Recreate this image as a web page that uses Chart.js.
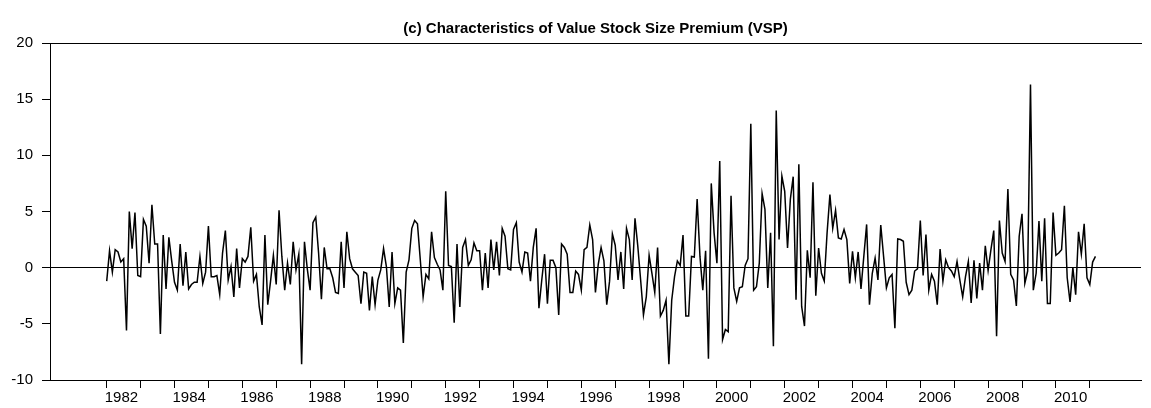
<!DOCTYPE html>
<html>
<head>
<meta charset="utf-8">
<script src="https://cdn.jsdelivr.net/npm/chart.js@4.4.1/dist/chart.umd.min.js"></script>
<style>
  html, body { margin: 0; padding: 0; background: #fff; }
  canvas { display: block; }
</style>
</head>
<body>
<canvas id="c" width="1151" height="408"></canvas>
<script>
// ---- data ----
const titleText = "(c) Characteristics of Value Stock Size Premium (VSP)";
const startYear = 1982;          // first observation: 1982M01 (monthly)
const yTicks = [-10, -5, 0, 5, 10, 15, 20];
const xTickYears = [1982,1983,1984,1985,1986,1987,1988,1989,1990,1991,1992,1993,1994,1995,1996,1997,1998,1999,2000,2001,2002,2003,2004,2005,2006,2007,2008,2009,2010,2011];
const xLabelYears = [1982,1984,1986,1988,1990,1992,1994,1996,1998,2000,2002,2004,2006,2008,2010];
const vsp = [
 -1.2, 1.5, -0.4, 1.6, 1.4, 0.5, 0.8, -5.6, 5.0, 1.7, 4.9, -0.7,
 -0.8, 4.3, 3.7, 0.4, 5.6, 2.1, 2.1, -5.9, 2.9, -1.9, 2.7, 0.6,
 -1.3, -2.0, 2.1, -1.6, 1.4, -1.9, -1.5, -1.3, -1.3, 1.0, -1.4, -0.4,
 3.7, -0.8, -0.8, -0.7, -2.4, 1.3, 3.3, -1.1, 0.1, -2.6, 1.7, -1.8,
 0.8, 0.5, 1.0, 3.6, -1.2, -0.6, -3.5, -5.1, 2.9, -3.3, -1.2, 1.1,
 -1.5, 5.1, 1.0, -2.0, 0.4, -1.5, 2.3, -0.2, 1.2, -8.6, 2.3, -0.1,
 -2.0, 4.0, 4.5, 1.3, -2.8, 1.8, -0.1, -0.1, -0.9, -2.2, -2.3, 2.3,
 -1.8, 3.2, 0.8, -0.1, -0.4, -0.7, -3.2, -0.4, -0.5, -3.8, -0.8, -3.3,
 -1.1, -0.2, 1.7, 0.1, -3.5, 1.4, -3.2, -1.8, -2.0, -6.7, -0.4, 0.7,
 3.5, 4.2, 3.9, 0.7, -2.6, -0.6, -1.0, 3.2, 0.9, 0.3, -0.2, -2.0,
 6.8, 0.2, 0.1, -4.9, 2.1, -3.5, 1.8, 2.5, 0.2, 0.7, 2.2, 1.5,
 1.5, -2.0, 1.3, -1.8, 2.5, -0.2, 2.3, -0.7, 3.5, 2.8, -0.1, -0.2,
 3.4, 4.0, 0.5, -0.4, 1.4, 1.3, -1.2, 1.8, 3.5, -3.6, -1.1, 1.2,
 -3.2, 0.65, 0.65, 0.0, -4.2, 2.1, 1.8, 1.2, -2.2, -2.2, -0.3, -0.6,
 -2.0, 1.6, 1.8, 3.8, 2.5, -2.2, 0.3, 1.8, 0.6, -3.3, -1.2, 3.0,
 2.0, -1.1, 1.4, -1.9, 3.5, 2.5, -1.1, 4.4, 1.9, -1.1, -4.2, -2.6,
 1.1, -0.5, -2.2, 1.8, -4.3, -3.8, -2.9, -8.6, -2.9, -0.8, 0.6, 0.2,
 2.9, -4.3, -4.3, 1.0, 0.95, 6.1, 1.0, -2.0, 1.5, -8.1, 7.5, 3.1,
 0.4, 9.5, -6.4, -5.5, -5.7, 6.4, -1.8, -3.0, -1.8, -1.7, 0.2, 0.8,
 12.8, -2.0, -1.7, 0.4, 6.6, 5.2, -1.8, 3.1, -7.0, 14.0, 2.5, 8.15,
 6.8, 1.75, 6.1, 8.1, -2.85, 9.2, -3.45, -5.2, 1.55, -0.9, 7.6, -2.5,
 1.75, -0.5, -1.2, 3.1, 6.5, 3.5, 5.1, 2.65, 2.55, 3.4, 2.5, -1.4,
 1.45, -0.9, 1.4, -1.9, 1.0, 3.85, -3.3, -0.5, 0.85, -1.1, 3.8, 1.0,
 -1.8, -0.9, -0.6, -5.4, 2.55, 2.5, 2.35, -1.3, -2.4, -2.0, -0.3, -0.1,
 4.2, -0.7, 2.95, -2.0, -0.6, -1.2, -3.3, 1.65, -1.2, 0.7, 0.0, -0.3,
 -0.8, 0.55, -1.1, -2.6, -0.8, 0.55, -3.15, 0.65, -2.75, 0.4, -2.0, 1.95,
 -0.25, 1.6, 3.3, -6.1, 4.2, 1.3, 0.55, 7.0, -0.6, -1.1, -3.4, 2.8,
 4.8, -1.4, -0.3, 16.3, -2.0, -0.5, 4.15, -1.2, 4.4, -3.2, -3.2, 4.9,
 1.1, 1.3, 1.6, 5.5, -0.9, -3.05, 0.0, -2.4, 3.2, 1.2, 3.9, -0.9,
 -1.5, 0.5, 1.0
];

// monthly positions (fractional years) for each observation
const points = vsp.map((v, i) => ({ x: startYear + i / 12, y: v }));

const X_MIN = 1980.327, X_MAX = 2012.51;
const FONT = "'Liberation Sans', Arial, Helvetica, sans-serif";

// title centred over the plot area (as in the reference)
const plotTitle = {
  id: 'plotTitle',
  afterDraw(chart) {
    const { ctx, chartArea } = chart;
    ctx.save();
    ctx.fillStyle = '#000';
    ctx.font = "bold 15px " + FONT;
    ctx.textAlign = 'center';
    ctx.textBaseline = 'middle';
    ctx.fillText(titleText, (chartArea.left + chartArea.right) / 2, chartArea.top - 14);
    ctx.restore();
  }
};

new Chart(document.getElementById('c'), {
  type: 'line',
  data: {
    datasets: [{
      data: points,
      borderColor: '#000',
      borderWidth: 1.5,
      pointRadius: 0,
      tension: 0,
      fill: false
    }]
  },
  options: {
    responsive: false,
    animation: false,
    devicePixelRatio: 1,
    layout: { padding: { left: 0, right: 10, top: 43, bottom: 0 } },
    plugins: {
      legend: { display: false },
      tooltip: { enabled: false },
      title: { display: false }
    },
    scales: {
      x: {
        type: 'linear',
        position: 'bottom',
        min: X_MIN, max: X_MAX,
        afterBuildTicks: s => { s.ticks = xTickYears.map(v => ({ value: v })); },
        afterFit: s => { s.height = 28; },
        border: { display: true, color: '#000', width: 1 },
        grid: { display: true, drawOnChartArea: false, drawTicks: true, tickLength: 8, tickColor: '#000', color: '#000' },
        ticks: {
          autoSkip: false, maxRotation: 0, minRotation: 0,
          align: 'start', labelOffset: -2, padding: 1,
          color: '#000',
          font: { family: FONT, size: 15 },
          callback: v => xLabelYears.includes(v) ? String(v) : ''
        }
      },
      x2: {
        type: 'linear',
        position: 'top',
        min: X_MIN, max: X_MAX,
        afterFit: s => { s.height = 0; },
        border: { display: true, color: '#000', width: 1 },
        grid: { display: true, drawOnChartArea: false, drawTicks: false, color: 'rgba(0,0,0,0)' },
        ticks: { display: false }
      },
      y: {
        min: -10, max: 20,
        afterBuildTicks: s => { s.ticks = yTicks.map(v => ({ value: v })); },
        afterFit: s => { s.width = 50; },
        border: { display: true, color: '#000', width: 1 },
        grid: {
          display: true, drawTicks: true, tickLength: 8, tickColor: '#000',
          color: ctx => (ctx.tick && ctx.tick.value === 0) ? '#000' : 'rgba(0,0,0,0)',
          lineWidth: 1
        },
        ticks: {
          color: '#000', padding: 9,
          font: { family: FONT, size: 15 }
        }
      }
    }
  },
  plugins: [plotTitle]
});
</script>
</body>
</html>
